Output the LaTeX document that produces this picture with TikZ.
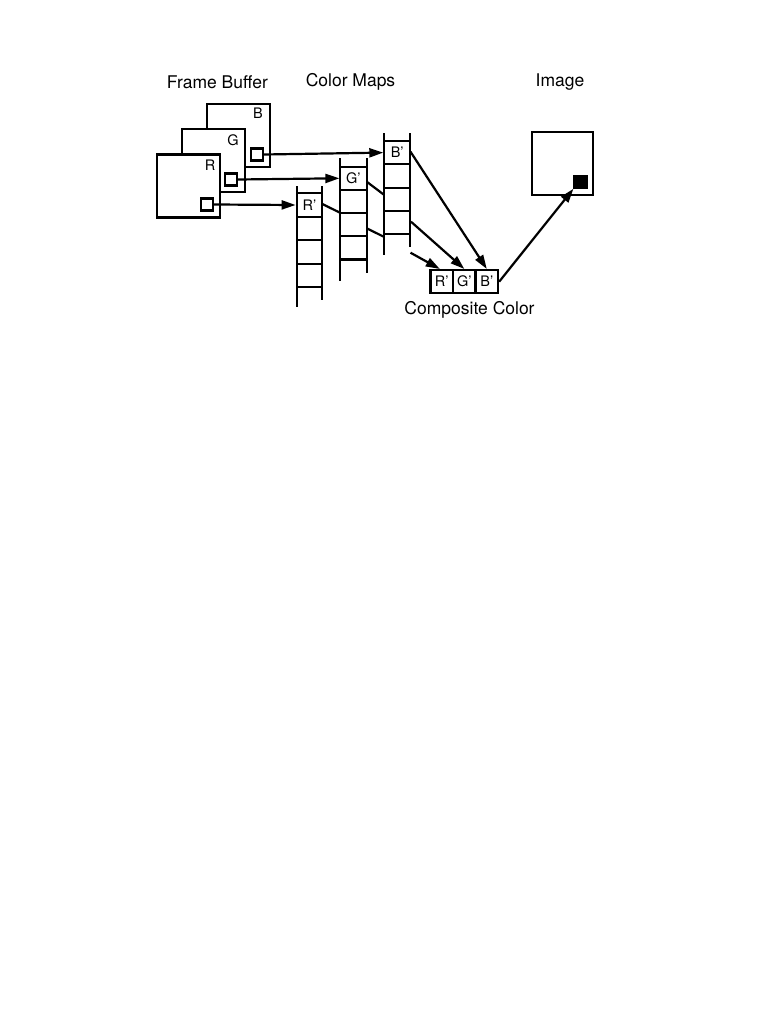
\documentclass[tikz,border=0pt]{standalone}
\usepackage{fontspec}
\setmainfont{TeX Gyre Heros}
\usetikzlibrary{arrows.meta}
\begin{document}
\begin{tikzpicture}[x=1pt,y=-1pt,line width=2.2pt,
  frame/.style={draw,fill=white,minimum width=63pt,minimum height=63pt,inner sep=0pt},
  pix/.style={draw,fill=white,minimum size=12pt,inner sep=0pt},
  lbl/.style={font=\fontsize{14.5}{14.5}\selectfont,inner sep=0pt},
  title/.style={font=\fontsize{17.5}{18}\selectfont,inner sep=0pt},
  cell/.style={minimum width=25.6pt,minimum height=23.3pt,inner sep=0pt,font=\fontsize{14.5}{14.5}\selectfont},
  comp/.style={draw,minimum width=22.5pt,minimum height=23.3pt,inner sep=0pt,font=\fontsize{14.5}{14.5}\selectfont},
  arr/.style={-{Triangle[length=14pt,width=9pt]}},
  rail/.style={line cap=butt}]
\useasboundingbox (0,0) rectangle (782,1012);
% titles
\node[title] (tfb) at (217.5,82) {Frame Buffer};
\node[title] (tcm) at (350.5,82) {Color Maps};
\node[title] (tim) at (560,82) {Image};
\node[title] (tcc) at (469.5,310) {Composite Color};
% frame buffer planes
\node[frame] (fB) at (238.3,135.5) {};
\node[lbl] at (258,113) {B};
\node[pix] (pB) at (257,154.5) {};
\node[frame] (fG) at (213.5,160.5) {};
\node[lbl] at (233,140) {G};
\node[pix] (pG) at (231,179.5) {};
\node[frame] (fR) at (188.5,186) {};
\node[lbl] at (210,165) {R};
\node[pix] (pR) at (207,204.5) {};
% ladders
\draw[rail] (296.7,186) -- (296.7,307) (322.3,186) -- (322.3,300);
\foreach \y in {193.3,216.8,240.3,263.8,287.3} \draw (296.7,\y) -- (322.3,\y);
\draw[rail] (340,158.3) -- (340,281) (366.7,158.3) -- (366.7,273);
\foreach \y in {166.7,189.9,213.1,236.3,259.5} \draw (340,\y) -- (366.7,\y);
\draw[rail] (384.3,133.3) -- (384.3,255) (410,133.3) -- (410,247);
\foreach \y in {141,164.3,187.6,210.9,234.2} \draw (384.3,\y) -- (410,\y);
\node[cell] (cR) at (309.5,205) {R'};
\node[cell] (cG) at (353.3,178.3) {G'};
\node[cell] (cB) at (397.2,152.6) {B'};
% plane to map arrows
\draw[arr] (pB.east) -- (cB.west);
\draw[arr] (pG.east) -- (cG.west);
\draw[arr] (pR.east) -- (cR.west);
% links between maps
\coordinate (l1a) at (322.3,204);
\coordinate (l1b) at (340,212.7);
\coordinate (l2a) at (366.7,181.7);
\coordinate (l2b) at (384.3,195);
\coordinate (l3a) at (366.7,228.3);
\coordinate (l3b) at (384.3,237);
\draw (l1a) -- (l1b);
\draw (l2a) -- (l2b);
\draw (l3a) -- (l3b);
% composite color
\node[comp] (kR) at (441.8,281.7) {R'};
\node[comp] (kG) at (464.3,281.7) {G'};
\node[comp] (kB) at (486.8,281.7) {B'};
\coordinate (s1) at (410.5,151.7);
\coordinate (s2) at (411,221.7);
\coordinate (s3) at (410.5,252.7);
\draw[arr] (s1) -- (kB.north);
\draw[arr] (s2) -- (kG.north);
\draw[arr] (s3) -- ([xshift=-2pt]kR.north);
% image
\node[draw,minimum width=61.6pt,minimum height=63.3pt,inner sep=0pt] (img) at (562.5,163.3) {};
\node[draw,fill=black,minimum size=12pt,inner sep=0pt] (px) at (580.5,181.7) {};
\draw[arr] (kB.east) -- (px.south west);
\end{tikzpicture}
\end{document}
